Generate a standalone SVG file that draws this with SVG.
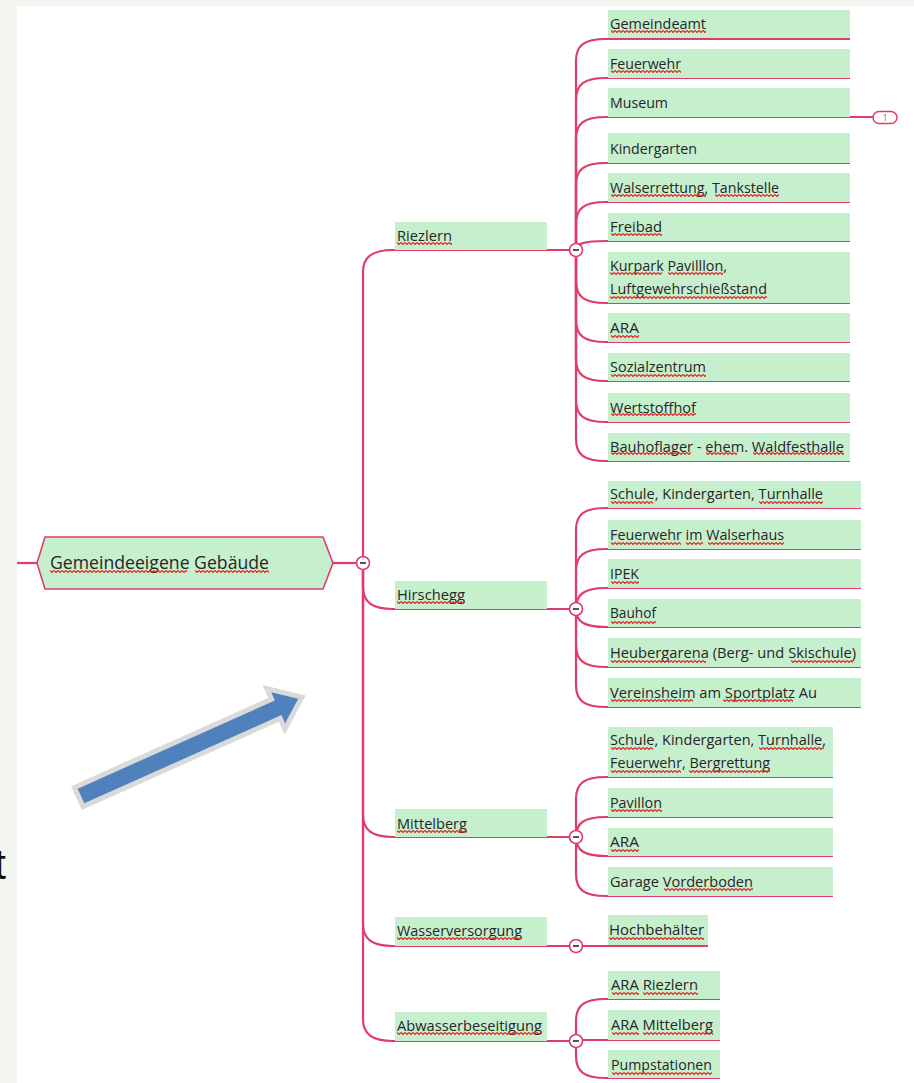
<svg xmlns="http://www.w3.org/2000/svg" width="914" height="1083" viewBox="0 0 914 1083">
<style>
.bg{fill:#f3f6ee}
.box{fill:#c6efce}
.ln{fill:none;stroke:#e03c6a;stroke-width:2.2}
.t{font-family:"Open Sans","Noto Sans",sans-serif;font-size:14px;fill:#262626}
.tr{font-family:"Open Sans","Noto Sans",sans-serif;font-size:18px;fill:#262626}
.sq{fill:url(#wave)}
.cb{fill:#ffffff;stroke:#e03c6a;stroke-width:1.6}
.mn{stroke:#555;stroke-width:2}
</style>
<defs>
<pattern id="wave" patternUnits="userSpaceOnUse" width="4" height="3">
<path d="M0,0.5 L2,2.5 L4,0.5" fill="none" stroke="#e5201f" stroke-width="1.1"/>
</pattern>
</defs>
<rect x="0" y="0" width="914" height="1083" fill="#ffffff"/>
<rect class="bg" x="0" y="0" width="914" height="6"/>
<rect class="bg" x="0" y="0" width="17" height="1083"/>
<text x="-6" y="879" font-family="Liberation Sans, Arial, sans-serif" font-size="43" fill="#111">t</text>

<g id="arrow">
<polygon points="0,-8 216,-8 216,-17 238,0 216,17 216,8 0,8" transform="translate(81,796) rotate(-24.1)" fill="#4f81bd" stroke="#dadada" stroke-width="10" stroke-linejoin="miter" paint-order="stroke"/>
</g>

<g id="connectors">
<path class="ln" d="M17,563 H37"/>
<path class="ln" d="M333,563 H357"/>
<path class="ln" d="M363,563 V272 C363,257 372,250 393,250 H570"/>
<path class="ln" d="M363,563 V587 C363,602 372,609 393,609 H570"/>
<path class="ln" d="M363,563 V815 C363,830 372,837 393,837 H570"/>
<path class="ln" d="M363,563 V924 C363,939 372,946 393,946 H570"/>
<path class="ln" d="M363,563 V1019 C363,1034 372,1041 393,1041 H570"/>
<!-- Riezlern children -->
<path class="ln" d="M576,250 V61 C576,45.6 584,39 606,39 H850"/>
<path class="ln" d="M576,250 V100 C576,84.6 584,78 606,78 H850"/>
<path class="ln" d="M576,250 V139 C576,123.6 584,117 606,117 H873"/>
<path class="ln" d="M576,250 V185 C576,169.6 584,163 606,163 H850"/>
<path class="ln" d="M576,250 V224 C576,208.6 584,202 606,202 H850"/>
<path class="ln" d="M576,250 C576,243.7 584,241 606,241 H850"/>
<path class="ln" d="M576,250 V281 C576,296.4 584,303 606,303 H850"/>
<path class="ln" d="M576,250 V320 C576,335.4 584,342 606,342 H850"/>
<path class="ln" d="M576,250 V359 C576,374.4 584,381 606,381 H850"/>
<path class="ln" d="M576,250 V400 C576,415.4 584,422 606,422 H850"/>
<path class="ln" d="M576,250 V439 C576,454.4 584,461 606,461 H850"/>
<!-- Hirschegg children -->
<path class="ln" d="M576,609 V530 C576,514.6 584,508 606,508 H861"/>
<path class="ln" d="M576,609 V571 C576,555.6 584,549 606,549 H861"/>
<path class="ln" d="M576,609 C576,594.3 584,588 606,588 H861"/>
<path class="ln" d="M576,609 C576,621.6 584,627 606,627 H861"/>
<path class="ln" d="M576,609 V645 C576,660.4 584,667 606,667 H861"/>
<path class="ln" d="M576,609 V685 C576,700.4 584,707 606,707 H861"/>
<!-- Mittelberg children -->
<path class="ln" d="M576,837 V799 C576,783.6 584,777 606,777 H833"/>
<path class="ln" d="M576,837 C576,823 584,817 606,817 H833"/>
<path class="ln" d="M576,837 C576,850.3 584,856 606,856 H833"/>
<path class="ln" d="M576,837 V874 C576,889.4 584,896 606,896 H833"/>
<!-- Wasserversorgung -->
<path class="ln" d="M576,946 H708"/>
<!-- Abwasserbeseitigung -->
<path class="ln" d="M576,1041 V1021 C576,1005.6 584,999 606,999 H720"/>
<path class="ln" d="M576,1040 H720"/>
<path class="ln" d="M576,1041 V1056 C576,1071.4 584,1078 606,1078 H720"/>
</g>

<g id="root">
<polygon points="37,563 45,537 323,537 333,563 323,589 45,589" fill="#c6efce" stroke="#e03c6a" stroke-width="1.6"/>
<text class="tr" x="50" y="569" textLength="219" lengthAdjust="spacingAndGlyphs">Gemeindeeigene Gebäude</text>
<rect class="sq" transform="translate(50,570)" width="137" height="3"/>
<rect class="sq" transform="translate(195,570)" width="74" height="3"/>
</g>

<g id="riezlern">
<rect class="box" x="395" y="222" width="152" height="28"/>
<text class="t" x="397" y="241" textLength="55" lengthAdjust="spacingAndGlyphs">Riezlern</text>
<rect class="sq" transform="translate(397,242)" width="55" height="3"/>
</g>
<g id="hirschegg">
<rect class="box" x="395" y="581" width="152" height="28"/>
<text class="t" x="397" y="600" textLength="68" lengthAdjust="spacingAndGlyphs">Hirschegg</text>
<rect class="sq" transform="translate(397,601)" width="68" height="3"/>
</g>
<g id="mittelberg">
<rect class="box" x="395" y="809" width="152" height="28"/>
<text class="t" x="397" y="829" textLength="70" lengthAdjust="spacingAndGlyphs">Mittelberg</text>
<rect class="sq" transform="translate(397,830)" width="70" height="3"/>
</g>
<g id="wasserversorgung">
<rect class="box" x="395" y="917" width="152" height="29"/>
<text class="t" x="397" y="936" textLength="125" lengthAdjust="spacingAndGlyphs">Wasserversorgung</text>
<rect class="sq" transform="translate(397,937)" width="125" height="3"/>
</g>
<g id="abwasserbeseitigung">
<rect class="box" x="395" y="1012" width="152" height="29"/>
<text class="t" x="397" y="1031" textLength="145" lengthAdjust="spacingAndGlyphs">Abwasserbeseitigung</text>
<rect class="sq" transform="translate(397,1032)" width="145" height="3"/>
</g>

<!-- Riezlern children -->
<g id="gemeindeamt">
<rect class="box" x="608" y="10" width="242" height="28"/>
<text class="t" x="610" y="29" textLength="96" lengthAdjust="spacingAndGlyphs">Gemeindeamt</text>
<rect class="sq" transform="translate(611,30)" width="95" height="3"/>
</g>
<g id="feuerwehr">
<rect class="box" x="608" y="49" width="242" height="29"/>
<text class="t" x="610" y="69" textLength="71" lengthAdjust="spacingAndGlyphs">Feuerwehr</text>
<rect class="sq" transform="translate(611,70)" width="70" height="3"/>
</g>
<g id="museum">
<rect class="box" x="608" y="88" width="242" height="29"/>
<text class="t" x="610" y="108" textLength="58" lengthAdjust="spacingAndGlyphs">Museum</text>
<rect x="873" y="111.5" width="24" height="12" rx="6" fill="#fff" stroke="#e03c6a" stroke-width="1.5"/>
<text x="885" y="121" font-family="Open Sans, sans-serif" font-size="9" fill="#777" text-anchor="middle">1</text>
</g>
<g id="kindergarten">
<rect class="box" x="608" y="133" width="242" height="30"/>
<text class="t" x="610" y="154" textLength="87" lengthAdjust="spacingAndGlyphs">Kindergarten</text>
</g>
<g id="walserrettung">
<rect class="box" x="608" y="173" width="242" height="29"/>
<text class="t" x="610" y="193" textLength="169" lengthAdjust="spacingAndGlyphs">Walserrettung, Tankstelle</text>
<rect class="sq" transform="translate(611,194)" width="95" height="3"/>
<rect class="sq" transform="translate(715,194)" width="64" height="3"/>
</g>
<g id="freibad">
<rect class="box" x="608" y="213" width="242" height="28"/>
<text class="t" x="610" y="232" textLength="52" lengthAdjust="spacingAndGlyphs">Freibad</text>
<rect class="sq" transform="translate(611,233)" width="51" height="3"/>
</g>
<g id="kurpark">
<rect class="box" x="608" y="252" width="242" height="51"/>
<text class="t" x="610" y="271" textLength="117" lengthAdjust="spacingAndGlyphs">Kurpark Pavilllon,</text>
<text class="t" x="610" y="294" textLength="157" lengthAdjust="spacingAndGlyphs">Luftgewehrschießstand</text>
<rect class="sq" transform="translate(610,272)" width="52" height="3"/>
<rect class="sq" transform="translate(668,272)" width="55" height="3"/>
<rect class="sq" transform="translate(610,296)" width="157" height="3"/>
</g>
<g id="ara1">
<rect class="box" x="608" y="313" width="242" height="29"/>
<text class="t" x="610" y="333" textLength="29" lengthAdjust="spacingAndGlyphs">ARA</text>
<rect class="sq" transform="translate(611,335)" width="28" height="3"/>
</g>
<g id="sozialzentrum">
<rect class="box" x="608" y="353" width="242" height="28"/>
<text class="t" x="610" y="372" textLength="96" lengthAdjust="spacingAndGlyphs">Sozialzentrum</text>
<rect class="sq" transform="translate(611,374)" width="95" height="3"/>
</g>
<g id="wertstoffhof">
<rect class="box" x="608" y="393" width="242" height="29"/>
<text class="t" x="610" y="413" textLength="86" lengthAdjust="spacingAndGlyphs">Wertstoffhof</text>
<rect class="sq" transform="translate(611,413)" width="85" height="3"/>
</g>
<g id="bauhoflager">
<rect class="box" x="608" y="433" width="242" height="28"/>
<text class="t" x="610" y="452" textLength="234" lengthAdjust="spacingAndGlyphs">Bauhoflager - ehem. Waldfesthalle</text>
<rect class="sq" transform="translate(611,452)" width="80" height="3"/>
<rect class="sq" transform="translate(706,452)" width="31" height="3"/>
<rect class="sq" transform="translate(753,452)" width="91" height="3"/>
</g>

<!-- Hirschegg children -->
<g id="schule1">
<rect class="box" x="608" y="481" width="253" height="27"/>
<text class="t" x="610" y="499" textLength="213" lengthAdjust="spacingAndGlyphs">Schule, Kindergarten, Turnhalle</text>
<rect class="sq" transform="translate(611,501)" width="42" height="3"/>
<rect class="sq" transform="translate(759,501)" width="64" height="3"/>
</g>
<g id="feuerwehr2">
<rect class="box" x="608" y="520" width="253" height="29"/>
<text class="t" x="610" y="540" textLength="174" lengthAdjust="spacingAndGlyphs">Feuerwehr im Walserhaus</text>
<rect class="sq" transform="translate(611,542)" width="70" height="3"/>
<rect class="sq" transform="translate(686,542)" width="17" height="3"/>
<rect class="sq" transform="translate(708,542)" width="76" height="3"/>
</g>
<g id="ipek">
<rect class="box" x="608" y="559" width="253" height="29"/>
<text class="t" x="610" y="579" textLength="29" lengthAdjust="spacingAndGlyphs">IPEK</text>
<rect class="sq" transform="translate(611,581)" width="28" height="3"/>
</g>
<g id="bauhof">
<rect class="box" x="608" y="599" width="253" height="28"/>
<text class="t" x="610" y="618" textLength="46" lengthAdjust="spacingAndGlyphs">Bauhof</text>
<rect class="sq" transform="translate(611,621)" width="45" height="3"/>
</g>
<g id="heubergarena">
<rect class="box" x="608" y="638" width="253" height="29"/>
<text class="t" x="610" y="658" textLength="246" lengthAdjust="spacingAndGlyphs">Heubergarena (Berg- und Skischule)</text>
<rect class="sq" transform="translate(611,660)" width="95" height="3"/>
<rect class="sq" transform="translate(791,660)" width="62" height="3"/>
</g>
<g id="vereinsheim">
<rect class="box" x="608" y="678" width="253" height="29"/>
<text class="t" x="610" y="698" textLength="207" lengthAdjust="spacingAndGlyphs">Vereinsheim am Sportplatz Au</text>
<rect class="sq" transform="translate(611,699)" width="82" height="3"/>
<rect class="sq" transform="translate(723,699)" width="70" height="3"/>
</g>

<!-- Mittelberg children -->
<g id="schule2">
<rect class="box" x="608" y="727" width="225" height="50"/>
<text class="t" x="610" y="745" textLength="216" lengthAdjust="spacingAndGlyphs">Schule, Kindergarten, Turnhalle,</text>
<text class="t" x="610" y="768" textLength="160" lengthAdjust="spacingAndGlyphs">Feuerwehr, Bergrettung</text>
<rect class="sq" transform="translate(611,747)" width="42" height="3"/>
<rect class="sq" transform="translate(759,747)" width="65" height="3"/>
<rect class="sq" transform="translate(611,770)" width="70" height="3"/>
<rect class="sq" transform="translate(689,770)" width="81" height="3"/>
</g>
<g id="pavillon">
<rect class="box" x="608" y="788" width="225" height="29"/>
<text class="t" x="610" y="808" textLength="52" lengthAdjust="spacingAndGlyphs">Pavillon</text>
<rect class="sq" transform="translate(611,809)" width="51" height="3"/>
</g>
<g id="ara2">
<rect class="box" x="608" y="828" width="225" height="28"/>
<text class="t" x="610" y="847" textLength="29" lengthAdjust="spacingAndGlyphs">ARA</text>
<rect class="sq" transform="translate(611,849)" width="28" height="3"/>
</g>
<g id="garage">
<rect class="box" x="608" y="867" width="225" height="29"/>
<text class="t" x="610" y="887" textLength="143" lengthAdjust="spacingAndGlyphs">Garage Vorderboden</text>
<rect class="sq" transform="translate(664,888)" width="89" height="3"/>
</g>

<!-- Wasserversorgung child -->
<g id="hochbehaelter">
<rect class="box" x="608" y="915" width="100" height="30"/>
<text class="t" x="609" y="935" textLength="95" lengthAdjust="spacingAndGlyphs">Hochbehälter</text>
<rect class="sq" transform="translate(609,937)" width="95" height="3"/>
</g>

<!-- Abwasser children -->
<g id="ara-riezlern">
<rect class="box" x="608" y="971" width="112" height="28"/>
<text class="t" x="611" y="990" textLength="87" lengthAdjust="spacingAndGlyphs">ARA Riezlern</text>
<rect class="sq" transform="translate(612,992)" width="27" height="3"/>
<rect class="sq" transform="translate(643,992)" width="55" height="3"/>
</g>
<g id="ara-mittelberg">
<rect class="box" x="608" y="1010" width="112" height="30"/>
<text class="t" x="611" y="1030" textLength="102" lengthAdjust="spacingAndGlyphs">ARA Mittelberg</text>
<rect class="sq" transform="translate(612,1032)" width="27" height="3"/>
<rect class="sq" transform="translate(643,1032)" width="70" height="3"/>
</g>
<g id="pumpstationen">
<rect class="box" x="608" y="1050" width="112" height="28"/>
<text class="t" x="611" y="1070" textLength="101" lengthAdjust="spacingAndGlyphs">Pumpstationen</text>
<rect class="sq" transform="translate(612,1072)" width="100" height="3"/>
</g>

<g id="collapse-buttons">
<circle class="cb" cx="363" cy="563" r="6.5"/><path class="mn" d="M360,563 H366"/>
<circle class="cb" cx="576" cy="250" r="6.5"/><path class="mn" d="M573,250 H579"/>
<circle class="cb" cx="576" cy="609" r="6.5"/><path class="mn" d="M573,609 H579"/>
<circle class="cb" cx="576" cy="837" r="6.5"/><path class="mn" d="M573,837 H579"/>
<circle class="cb" cx="576" cy="946" r="6.5"/><path class="mn" d="M573,946 H579"/>
<circle class="cb" cx="576" cy="1041" r="6.5"/><path class="mn" d="M573,1041 H579"/>
</g>
</svg>
